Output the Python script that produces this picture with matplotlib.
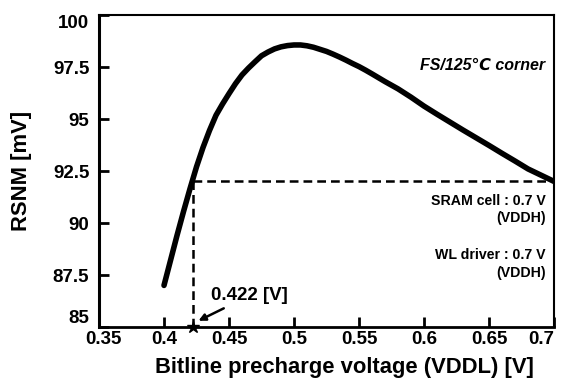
import numpy as np
import matplotlib
matplotlib.use("Agg")
import matplotlib.pyplot as plt
import matplotlib.transforms as mtransforms

plt.rcParams['font.family'] = ['Liberation Sans', 'DejaVu Sans']
plt.rcParams['font.weight'] = 'bold'

# bitline precharge voltage [V] vs RSNM [mV]
vddl = [0.400, 0.405, 0.410, 0.415, 0.420, 0.425, 0.430, 0.435, 0.440, 0.445,
        0.450, 0.455, 0.460, 0.465, 0.470, 0.475, 0.480, 0.485, 0.490, 0.495,
        0.500, 0.505, 0.510, 0.515, 0.520, 0.525, 0.530, 0.535, 0.540, 0.545,
        0.550, 0.555, 0.560, 0.570, 0.580, 0.590, 0.600, 0.610, 0.620, 0.630,
        0.640, 0.650, 0.660, 0.670, 0.680, 0.690, 0.700]
rsnm = [87.0, 88.2, 89.4, 90.55, 91.65, 92.7, 93.63, 94.45, 95.18, 95.72,
        96.22, 96.7, 97.12, 97.45, 97.75, 98.04, 98.22, 98.37, 98.47, 98.53,
        98.56, 98.56, 98.52, 98.45, 98.35, 98.25, 98.12, 97.98, 97.83, 97.67,
        97.52, 97.35, 97.17, 96.8, 96.45, 96.05, 95.62, 95.23, 94.85, 94.47,
        94.1, 93.73, 93.35, 92.98, 92.6, 92.3, 92.0]

v_min = 0.422
rsnm_min = 92.0
xticks = [0.35, 0.4, 0.45, 0.5, 0.55, 0.6, 0.65, 0.7]
xtick_labels = ['0.35', '0.4', '0.45', '0.5', '0.55', '0.6', '0.65', '0.7']
yticks = [85, 87.5, 90, 92.5, 95, 97.5, 100]
ytick_labels = ['85', '87.5', '90', '92.5', '95', '97.5', '100']

fig = plt.figure(figsize=(5.67, 3.85), dpi=100)
ax = fig.add_axes([0.1746, 0.1506, 0.9771 - 0.1746, 0.961 - 0.1506])

ax.plot(vddl, rsnm, color='black', lw=4.0, solid_capstyle='round',
        solid_joinstyle='round', zorder=3)

# dashed guide lines
ax.plot([v_min, v_min], [85, rsnm_min], color='black', lw=1.8, ls=(0, (3.5, 2)))
ax.plot([v_min, 0.7], [rsnm_min, rsnm_min], color='black', lw=1.8, ls=(0, (3.5, 2)))
ax.plot([v_min], [85], marker='*', color='black', ms=9, clip_on=False, zorder=5)

ax.annotate('0.422 [V]', xy=(0.4265, 85.3), xytext=(0.436, 86.5),
            fontsize=13.5, fontweight='bold', va='center', ha='left',
            arrowprops=dict(arrowstyle='-|>', color='black', lw=1.8,
                            mutation_scale=10, shrinkA=2, shrinkB=0))

ax.text(0.6935, 97.6, 'FS/125℃ corner', ha='right', va='center',
        fontsize=11.5, fontweight='bold', style='italic')
ax.text(0.6938, 91.06, 'SRAM cell : 0.7 V', ha='right', va='center', fontsize=10.2, fontweight='bold')
ax.text(0.6938, 90.25, '(VDDH)', ha='right', va='center', fontsize=10.2, fontweight='bold')
ax.text(0.6938, 88.46, 'WL driver : 0.7 V', ha='right', va='center', fontsize=10.2, fontweight='bold')
ax.text(0.6938, 87.62, '(VDDH)', ha='right', va='center', fontsize=10.2, fontweight='bold')

ax.set_xlim(0.35, 0.7)
ax.set_ylim(85, 100)
ax.set_xticks(xticks)
ax.set_xticklabels(xtick_labels)
ax.set_yticks(yticks)
ax.set_yticklabels(ytick_labels)
ax.tick_params(direction='in', length=7, width=2, labelsize=13.5, top=False, right=False)
ax.tick_params(axis='y', pad=7)
ax.tick_params(axis='x', pad=3)
for lab in ax.get_xticklabels() + ax.get_yticklabels():
    lab.set_fontweight('bold')

# end labels sit inside the corners, as in the original
ylabs = ax.get_yticklabels()
ylabs[0].set_va('bottom')
ylabs[-1].set_va('top')
xlabs = ax.get_xticklabels()
xlabs[0].set_transform(xlabs[0].get_transform() +
                       mtransforms.ScaledTranslation(4 / 100, 0, fig.dpi_scale_trans))
xlabs[-1].set_ha('right')

ax.spines['left'].set_linewidth(2.2)
ax.spines['bottom'].set_linewidth(2.0)
ax.spines['top'].set_linewidth(1.5)
ax.spines['right'].set_linewidth(1.5)

ax.set_xlabel('Bitline precharge voltage (VDDL) [V]', fontsize=15.8, fontweight='bold')
ax.xaxis.set_label_coords(0.54, -0.097)
ax.set_ylabel('RSNM [mV]', fontsize=15.8, fontweight='bold')
ax.yaxis.set_label_coords(-0.147, 0.5)

fig.savefig('out.png', dpi=100)
